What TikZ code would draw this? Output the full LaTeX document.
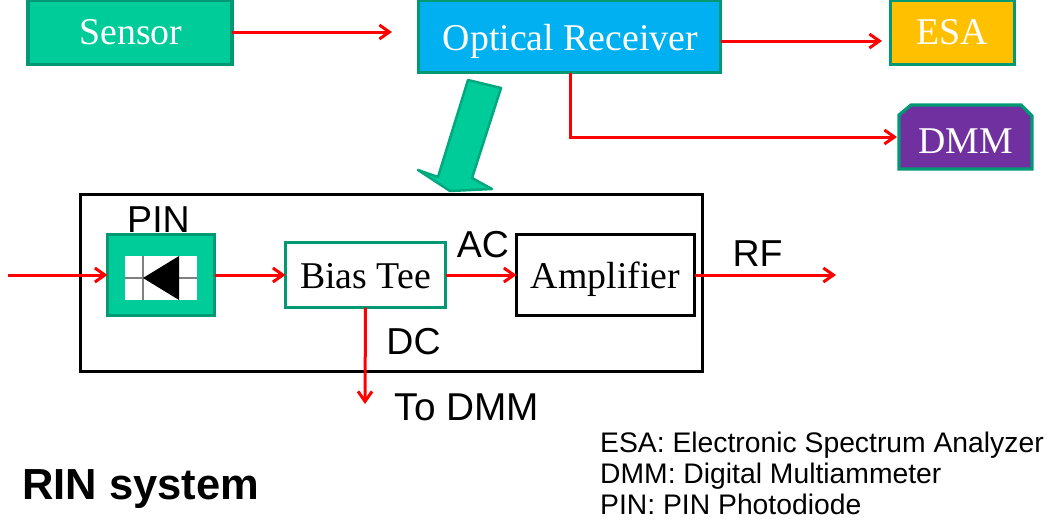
\documentclass[tikz,border=0pt]{standalone}
\usepackage{fontspec}
\setmainfont{Liberation Serif}
\newfontfamily\arialf{Liberation Sans}
\usetikzlibrary{arrows.meta,calc}
\definecolor{grn}{RGB}{0,204,153}
\definecolor{edgegrn}{RGB}{0,153,115}
\definecolor{blu}{RGB}{0,176,240}
\definecolor{orng}{RGB}{255,192,0}
\definecolor{purp}{RGB}{112,48,160}
\tikzset{
  x=1pt,y=-1pt,
  serifT/.style={font=\fontsize{37.8}{37.8}\selectfont},
  sansT/.style={font=\arialf\fontsize{37.5}{37.5}\selectfont,inner sep=0pt,text=black},
  legendT/.style={font=\arialf\fontsize{28.3}{28.3}\selectfont,inner sep=0pt,anchor=base west,text=black},
  block/.style={draw=edgegrn,line width=3.2pt,serifT,inner sep=0pt,outer sep=0pt},
  wire/.style={draw=red,line width=3pt,-{Straight Barb[length=10pt,width=14pt,line width=3pt]}},
}
\begin{document}
\begin{tikzpicture}
\useasboundingbox (0,0) rectangle (1051,523);
% top row
\node[block,fill=grn,text=white,minimum width=204pt,minimum height=64pt] (sensor) at (130,32.5) {\hspace*{2pt}Sensor};
\node[block,fill=blu,text=white,minimum width=302pt,minimum height=72pt] (recv) at (569.5,36.5) {\hspace*{2pt}\raisebox{-13.5pt}[0pt][0pt]{Optical Receiver}};
\node[block,fill=orng,text=white,minimum width=124pt,minimum height=64pt] (esa) at (952.5,32.5) {ESA};
\path[draw=edgegrn,line width=3.2pt,fill=purp] (911,105) -- (1021,105) -- (1032,116) -- (1032,169) -- (899,169) -- (899,115) -- cycle;
\node[serifT,text=white,inner sep=0pt] (dmm) at (965.5,141) {DMM};
\coordinate (dmmIn) at (897,137);
\coordinate (recvOut) at (570,73);
\coordinate (sensIn) at (392,32);
\coordinate (esaIn) at (882,41);
\draw[wire] (sensor.east |- sensIn) -- (sensIn);
\draw[wire] (recv.east |- esaIn) -- (esaIn);
\draw[wire] (recvOut) |- (dmmIn);
% big arrow
\path[draw=edgegrn!70!grn,line width=2.5pt,fill=grn,line join=round] (468,80) -- (501,88) -- (472,178) -- (492,189) -- (450,191) -- (418,170) -- (438,177) -- cycle;
% enclosure
\node[draw=black,line width=3pt,minimum width=622pt,minimum height=177pt,inner sep=0pt,outer sep=0pt] (frame) at (391.5,283) {};
% PIN
\node[block,fill=grn,minimum width=107pt,minimum height=81pt] (pin) at (161,275) {};
\node[fill=white,minimum width=72pt,minimum height=44pt,inner sep=0pt,outer sep=0pt] (pinIn) at (161,278) {};
\draw[gray,line width=1.2pt] (pinIn.west) -- (pinIn.east);
\draw[gray,line width=1.2pt] (143,256) -- (143,300);
\fill[black] (143,278) -- (179,256) -- (179,300) -- cycle;
\node[sansT] (pinL) at (158.5,220) {PIN};
% bias tee, amp
\node[block,fill=white,minimum width=160pt,minimum height=65pt] (bias) at (365.5,275) {\raisebox{-13pt}[0pt][0pt]{Bias Tee}};
\node[draw=black,line width=2.8pt,serifT,inner sep=0pt,outer sep=0pt,minimum width=178pt,minimum height=81pt] (amp) at (605.5,275) {\raisebox{-13pt}[0pt][0pt]{Amplifier}};
% wires
\coordinate (pinW) at (8,275);
\coordinate (rfEnd) at (836,275);
\coordinate (dmmDown) at (365,404);
\draw[wire] (pinW) -- (pin.west);
\draw[wire] (pin.east) -- (bias.west);
\draw[wire] (bias.east) -- (amp.west);
\draw[wire] (amp.east) -- (rfEnd);
\draw[wire] (bias.south) -- (dmmDown);
% labels
\node[sansT] (acL) at (483,245) {AC};
\node[sansT] (rfL) at (757.5,254) {RF};
\node[sansT] (dcL) at (413.5,342) {DC};
\node[sansT,font=\arialf\fontsize{38.8}{38.8}\selectfont] (toL) at (467,407) {To DMM};
\node[font=\arialf\bfseries\fontsize{43.5}{43.5}\selectfont,inner sep=0pt,anchor=base west,text=black] (rin) at (22,499) {RIN system};
\node[legendT] (l1) at (600,452) {ESA: Electronic Spectrum Analyzer};
\node[legendT] (l2) at (600,483) {DMM: Digital Multiammeter};
\node[legendT] (l3) at (600,514) {PIN: PIN Photodiode};
\end{tikzpicture}
\end{document}
